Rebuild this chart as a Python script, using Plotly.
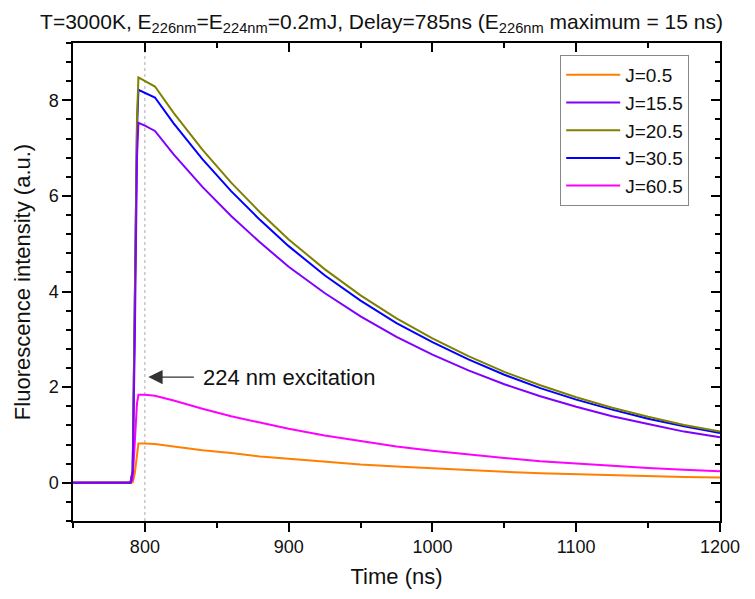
import plotly.graph_objects as go

time_ns = [750, 790, 791.5, 793, 794.5, 795.5, 800, 807, 820, 840, 860, 880, 900, 925,
           950, 975, 1000, 1025, 1050, 1075, 1100, 1125, 1150, 1175, 1200]

j0_5 = [0, 0, 0.01, 0.2, 0.65, 0.82, 0.82, 0.81, 0.76, 0.68, 0.62, 0.55, 0.50, 0.44,
        0.38, 0.34, 0.30, 0.26, 0.23, 0.20, 0.18, 0.15, 0.14, 0.12, 0.11]
j15_5 = [0, 0, 0.23, 3.0, 6.8, 7.53, 7.47, 7.36, 6.87, 6.19, 5.58, 5.03, 4.52, 3.97,
         3.48, 3.05, 2.68, 2.35, 2.06, 1.81, 1.59, 1.39, 1.23, 1.07, 0.95]
j20_5 = [0, 0, 0.25, 3.4, 7.6, 8.48, 8.41, 8.29, 7.74, 6.97, 6.28, 5.66, 5.09, 4.47,
         3.92, 3.44, 3.02, 2.65, 2.32, 2.04, 1.79, 1.57, 1.38, 1.21, 1.07]
j30_5 = [0, 0, 0.25, 3.3, 7.4, 8.22, 8.16, 8.06, 7.52, 6.77, 6.10, 5.50, 4.95, 4.34,
         3.81, 3.34, 2.94, 2.58, 2.26, 1.98, 1.74, 1.53, 1.34, 1.18, 1.04]
j60_5 = [0, 0, 0.06, 0.74, 1.66, 1.84, 1.84, 1.82, 1.72, 1.55, 1.39, 1.26, 1.13, 0.99,
         0.87, 0.76, 0.67, 0.59, 0.52, 0.45, 0.40, 0.35, 0.31, 0.27, 0.24]

series_names = ["J=0.5", "J=15.5", "J=20.5", "J=30.5", "J=60.5"]
series_values = [j0_5, j15_5, j20_5, j30_5, j60_5]
series_colors = ["#FF8000", "#8000FF", "#808000", "#0000FF", "#FF00FF"]
draw_order = [0, 4, 3, 2, 1]

FONT = "Liberation Sans, Arial, sans-serif"
TXT = "#111111"

fig = go.Figure()
for i in draw_order:
    fig.add_trace(go.Scatter(
        x=time_ns, y=series_values[i], mode="lines", name=series_names[i],
        legendrank=i + 1,
        line=dict(color=series_colors[i], width=2),
    ))

# empty trace to activate mirror axes
fig.add_trace(go.Scatter(x=[], y=[], xaxis="x2", yaxis="y2", showlegend=False))

# dotted line at 800 ns
fig.add_shape(type="line", x0=800, x1=800, y0=0, y1=1, xref="x", yref="paper",
              line=dict(color="#aaaaaa", width=1, dash="dot"), layer="below")

fig.add_annotation(x=802.4, y=2.21, ax=47, ay=0, xref="x", yref="y", text="",
                   showarrow=True, arrowhead=2, arrowsize=2.2, arrowwidth=1.3,
                   arrowcolor="#333333")
fig.add_annotation(x=839.3, y=2.21, xref="x", yref="y", text="224 nm excitation",
                   showarrow=False, xanchor="left", yanchor="middle",
                   font=dict(family=FONT, size=22, color=TXT))

axis_common = dict(showline=True, linecolor="black", linewidth=1.5, showgrid=False,
                   zeroline=False, tickcolor="black", tickwidth=1.5)

fig.update_layout(
    width=747, height=591,
    margin=dict(l=65, r=35, t=35, b=78),
    paper_bgcolor="white", plot_bgcolor="white",
    font=dict(family=FONT, color=TXT),
    title=dict(
        text="T=3000K, E<sub>226nm</sub>=E<sub>224nm</sub>=0.2mJ, Delay=785ns (E<sub>226nm</sub> maximum = 15 ns)",
        x=0.5, xanchor="center", y=0.99, yanchor="top",
        font=dict(family=FONT, size=21, color=TXT),
    ),
    xaxis=dict(
        range=[750, 1200], tick0=800, dtick=100, ticks="outside", ticklen=9,
        minor=dict(dtick=50, tick0=750, ticks="outside", ticklen=5, tickcolor="black", tickwidth=1.5),
        tickfont=dict(size=18), title=dict(text="Time (ns)", font=dict(size=22), standoff=12),
        **axis_common,
    ),
    yaxis=dict(
        range=[-0.8, 9.2], tick0=0, dtick=2, ticks="outside", ticklen=9,
        minor=dict(dtick=0.4, tick0=0, ticks="outside", ticklen=5, tickcolor="black", tickwidth=1.5),
        tickfont=dict(size=18), title=dict(text="Fluorescence intensity (a.u.)", font=dict(size=22), standoff=12),
        **axis_common,
    ),
    xaxis2=dict(
        overlaying="x", side="top", matches="x", range=[750, 1200], tick0=800, dtick=100,
        ticks="inside", ticklen=9, showticklabels=False,
        minor=dict(dtick=50, tick0=750, ticks="inside", ticklen=5, tickcolor="black", tickwidth=1.5),
        **axis_common,
    ),
    yaxis2=dict(
        overlaying="y", side="right", matches="y", range=[-0.8, 9.2], tick0=0, dtick=2,
        ticks="inside", ticklen=9, showticklabels=False,
        minor=dict(dtick=0.4, tick0=0, ticks="inside", ticklen=5, tickcolor="black", tickwidth=1.5),
        **axis_common,
    ),
    legend=dict(
        x=0.753, y=0.975, xanchor="left", yanchor="top",
        bordercolor="#888888", borderwidth=1, bgcolor="white",
        font=dict(family=FONT, size=19, color=TXT),
        itemwidth=54, tracegroupgap=0,
    ),
)

fig.write_html("out.html")
